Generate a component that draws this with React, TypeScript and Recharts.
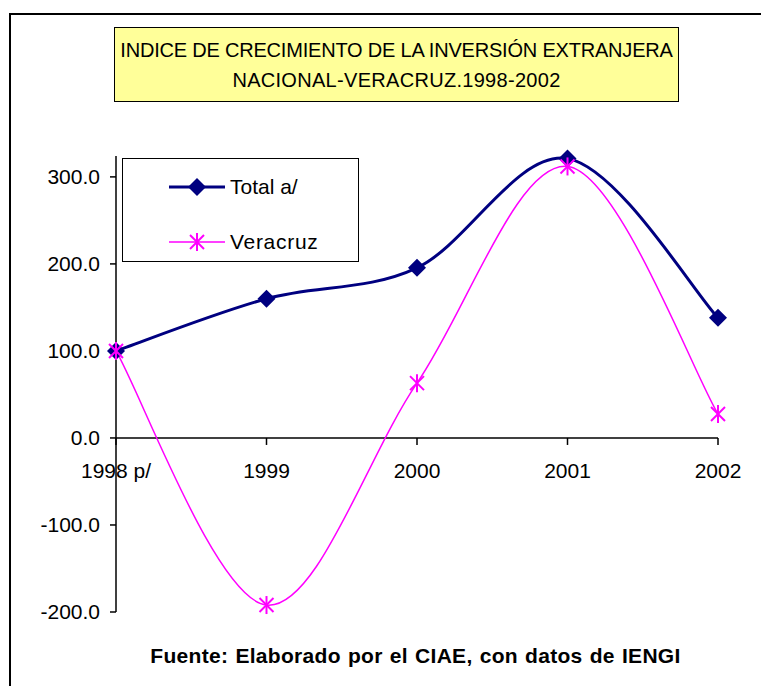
import React from 'react';
import { LineChart, Line, XAxis, YAxis, ReferenceLine } from 'recharts';

const years = ['1998 p/', '1999', '2000', '2001', '2002'];
const totalValues = [100.0, 160.0, 195.5, 321.0, 138.0];
const veracruzValues = [100.0, -192.0, 63.0, 312.0, 27.5];
const yTicks = [-200, -100, 0, 100, 200, 300];
const Y_MIN = -200;
const Y_MAX = 324;

const data = years.map((year, i) => ({ year, total: totalValues[i], veracruz: veracruzValues[i] }));

const FONT = '"Liberation Sans", Arial, sans-serif';
const NAVY = '#000080';
const MAGENTA = '#FF00FF';

const CHART_W = 761;
const CHART_H = 678;
const MARGIN = { top: 148, right: 51, bottom: 44, left: 28 };
const X_AXIS_H = 30;
const PLOT_H = CHART_H - MARGIN.top - MARGIN.bottom - X_AXIS_H;

// Excel-like smoothed line (Catmull-Rom through the points)
const excelCurve = (context: any) => {
  let pts: number[][] = [];
  return {
    areaStart() {},
    areaEnd() {},
    lineStart() { pts = []; },
    point(x: number, y: number) { pts.push([+x, +y]); },
    lineEnd() {
      const n = pts.length;
      if (!n) return;
      context.moveTo(pts[0][0], pts[0][1]);
      for (let i = 0; i < n - 1; i++) {
        const p0 = pts[Math.max(i - 1, 0)];
        const p1 = pts[i];
        const p2 = pts[i + 1];
        const p3 = pts[Math.min(i + 2, n - 1)];
        context.bezierCurveTo(
          p1[0] + (p2[0] - p0[0]) / 6, p1[1] + (p2[1] - p0[1]) / 6,
          p2[0] - (p3[0] - p1[0]) / 6, p2[1] - (p3[1] - p1[1]) / 6,
          p2[0], p2[1]
        );
      }
    },
  };
};

const Diamond = ({ cx, cy }: any) => {
  if (cx == null || cy == null) return null;
  const r = 9;
  return <polygon points={`${cx},${cy - r} ${cx + r},${cy} ${cx},${cy + r} ${cx - r},${cy}`} fill={NAVY} />;
};

const Star = ({ cx, cy }: any) => {
  if (cx == null || cy == null) return null;
  const r = 9;
  const d = 7;
  return (
    <g stroke={MAGENTA} strokeWidth={2}>
      <line x1={cx} y1={cy - r} x2={cx} y2={cy + r} />
      <line x1={cx - d} y1={cy - d} x2={cx + d} y2={cy + d} />
      <line x1={cx - d} y1={cy + d} x2={cx + d} y2={cy - d} />
    </g>
  );
};

// x labels sit under the zero line, not at the bottom of the plot
const XTick = ({ x, y, payload }: any) => {
  const zeroY = y - (PLOT_H * (0 - Y_MIN)) / (Y_MAX - Y_MIN);
  return (
    <g>
      <line x1={x} y1={zeroY} x2={x} y2={zeroY + 7} stroke="#000" strokeWidth={1.5} />
      <text x={x} y={zeroY + 40} textAnchor="middle" fill="#000" fontSize={21} fontFamily={FONT}>
        {payload.value}
      </text>
    </g>
  );
};

const LegendBox = () => (
  <div style={{ position: 'absolute', left: 114, top: 150, width: 235, height: 102, border: '1.5px solid #000', background: '#fff', fontFamily: FONT, fontSize: 21, color: '#000' }}>
    <div style={{ display: 'flex', alignItems: 'center', marginTop: 16, marginLeft: 46 }}>
      <svg width={56} height={20}>
        <line x1={0} y1={10} x2={56} y2={10} stroke={NAVY} strokeWidth={3} />
        <Diamond cx={28} cy={10} />
      </svg>
      <span style={{ marginLeft: 5 }}>Total a/</span>
    </div>
    <div style={{ display: 'flex', alignItems: 'center', marginTop: 31, marginLeft: 46 }}>
      <svg width={56} height={20}>
        <line x1={0} y1={10} x2={56} y2={10} stroke={MAGENTA} strokeWidth={1.5} />
        <Star cx={28} cy={10} />
      </svg>
      <span style={{ marginLeft: 5, letterSpacing: 0.7 }}>Veracruz</span>
    </div>
  </div>
);

export default function App() {
  return (
    <div style={{ position: 'relative', width: CHART_W, height: CHART_H, fontFamily: FONT }}>
      <div style={{ position: 'absolute', left: 1, top: 5, right: -20, bottom: -20, borderLeft: '2px solid #000', borderTop: '2px solid #000' }} />
      <div
        style={{
          position: 'absolute', left: 106, top: 19, width: 563, height: 73,
          background: '#FFFF99', border: '1.5px solid #000', boxSizing: 'content-box',
          display: 'flex', flexDirection: 'column', alignItems: 'center', justifyContent: 'center',
          fontSize: 20, lineHeight: '30px', color: '#000', letterSpacing: -0.2,
        }}
      >
        <div>INDICE DE CRECIMIENTO DE LA INVERSIÓN EXTRANJERA</div>
        <div style={{ letterSpacing: 0.3 }}>NACIONAL-VERACRUZ.1998-2002</div>
      </div>
      <div style={{ position: 'absolute', left: 0, top: 0 }}>
        <LineChart width={CHART_W} height={CHART_H} data={data} margin={MARGIN}>
          <XAxis
            dataKey="year"
            scale="point"
            padding={{ left: 0, right: 0 }}
            height={X_AXIS_H}
            axisLine={false}
            tickLine={false}
            tickSize={0}
            tickMargin={0}
            interval={0}
            tick={<XTick />}
          />
          <YAxis
            width={80}
            domain={[Y_MIN, Y_MAX]}
            ticks={yTicks}
            interval={0}
            tickFormatter={(v) => Number(v).toFixed(1)}
            tick={{ fill: '#000', fontSize: 21, fontFamily: FONT }}
            tickSize={6}
            tickMargin={10}
            axisLine={{ stroke: '#000', strokeWidth: 1.5 }}
            tickLine={{ stroke: '#000', strokeWidth: 1.5 }}
          />
          <ReferenceLine y={0} stroke="#000" strokeWidth={1.5} />
          <Line
            dataKey="total"
            name="Total a/"
            type={excelCurve as any}
            stroke={NAVY}
            strokeWidth={3}
            dot={<Diamond />}
            activeDot={false}
            isAnimationActive={false}
          />
          <Line
            dataKey="veracruz"
            name="Veracruz"
            type={excelCurve as any}
            stroke={MAGENTA}
            strokeWidth={1.5}
            dot={<Star />}
            activeDot={false}
            isAnimationActive={false}
          />
        </LineChart>
      </div>
      <LegendBox />
      <div style={{ position: 'absolute', left: 0, width: 815, top: 636, textAlign: 'center', fontWeight: 'bold', fontSize: 21, letterSpacing: 0.3, wordSpacing: 1, color: '#000' }}>
        Fuente: Elaborado por el CIAE, con datos de IENGI
      </div>
    </div>
  );
}
